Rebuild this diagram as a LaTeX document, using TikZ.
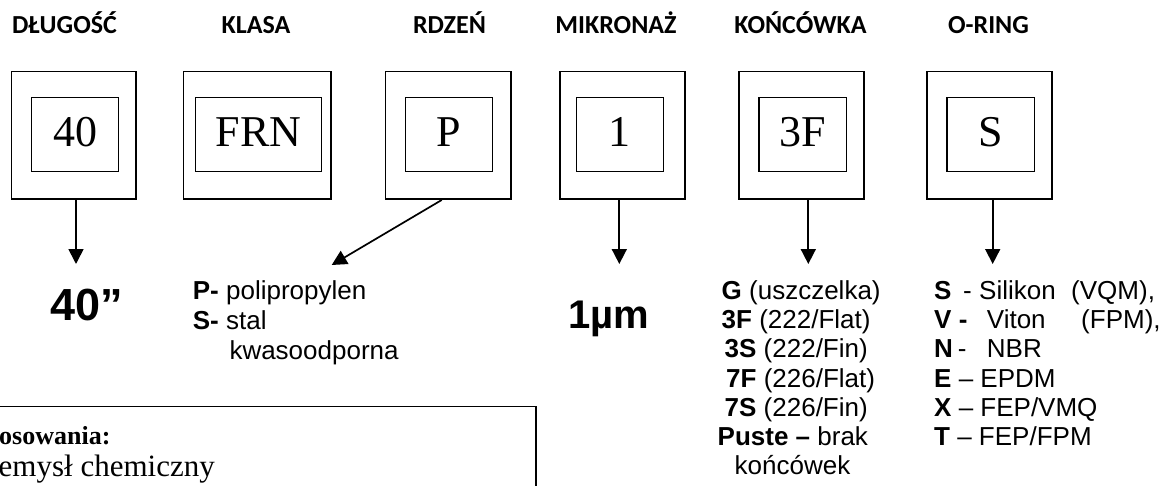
\documentclass[tikz,border=0pt]{standalone}
\usepackage{fontspec}
\setmainfont{Liberation Serif}
\newfontfamily\hdrf{Carlito}
\newfontfamily\arf{Liberation Sans}
\usetikzlibrary{arrows.meta}
\begin{document}
\begin{tikzpicture}[x=1pt,y=-1pt,
  hdr/.style={font=\hdrf\bfseries\fontsize{26}{30}\selectfont, anchor=base, inner sep=0},
  outerbox/.style={draw, line width=1.7pt, minimum height=127.6pt, inner sep=0},
  innerbox/.style={draw, line width=1.2pt, minimum height=74.4pt, inner sep=0,
     text height=25pt, text depth=0pt, font=\fontsize{44}{48}\selectfont},
  arr/.style={line width=1.7pt, -{Triangle[length=15pt,width=15pt]}},
  lst/.style={font=\arf\fontsize{26}{29}\selectfont, anchor=base west, inner sep=0},
  big/.style={font=\arf\bfseries, anchor=base west, inner sep=0},
]
\useasboundingbox (0,0) rectangle (1166,486);
\fill[white] (0,0) rectangle (1166,486);

% headers
\node[hdr] (h1) at (64.5,34) {DŁUGOŚĆ};
\node[hdr] (h2) at (256,34) {KLASA};
\node[hdr] (h3) at (449.5,34) {RDZEŃ};
\node[hdr] (h4) at (616,34) {MIKRONAŻ};
\node[hdr] (h5) at (800.5,34) {KOŃCÓWKA};
\node[hdr] (h6) at (988.5,34) {O-RING};

% outer boxes
\node[outerbox, minimum width=124.6pt] (o1) at (73.85,135.35) {};
\node[outerbox, minimum width=147.3pt] (o2) at (257.2,135.35) {};
\node[outerbox, minimum width=125.3pt] (o3) at (448.2,135.35) {};
\node[outerbox, minimum width=125pt] (o4) at (622.35,135.35) {};
\node[outerbox, minimum width=125pt] (o5) at (801.65,135.35) {};
\node[outerbox, minimum width=125pt] (o6) at (989.65,135.35) {};

% inner boxes
\node[innerbox, minimum width=87.4pt] (i1) at (75,134.5) {40\hspace{5pt}};
\node[innerbox, minimum width=125.5pt] (i2) at (258.35,134.5) {FRN\hspace{5pt}};
\node[innerbox, minimum width=87.1pt] (i3) at (449.15,134.5) {P\hspace{4pt}};
\node[innerbox, minimum width=87.1pt] (i4) at (619.85,134.5) {1\hspace{5pt}};
\node[innerbox, minimum width=87.2pt] (i5) at (802.5,134.5) {3F\hspace{4pt}};
\node[innerbox, minimum width=87.5pt] (i6) at (990.65,134.5) {S\hspace{4pt}};

% arrow tips
\coordinate (t1) at (76,264);
\coordinate (t3) at (331.7,265);
\coordinate (t4) at (619.3,264);
\coordinate (t5) at (808.3,264);
\coordinate (t6) at (992.7,264);
\draw[arr] (o1.south -| t1) -- (t1);
\draw[arr] ([xshift=-6.5pt]o3.south) -- (t3);
\draw[arr] (o4.south -| t4) -- (t4);
\draw[arr] (o5.south -| t5) -- (t5);
\draw[arr] (o6.south -| t6) -- (t6);

% values
\node[big, font=\arf\bfseries\fontsize{45}{50}\selectfont] (v1) at (50,320) {40”};
\node[big, font=\arf\bfseries\fontsize{40}{46}\selectfont] (v4) at (568,328.5) {1µm};

% RDZEN list
\node[lst] (r1) at (192.7,299.5) {\textbf{P-} polipropylen};
\node[lst] (r2) at (192.7,329.5) {\textbf{S-} stal};
\node[lst] (r3) at (229.3,359.5) {kwasoodporna};

% KONCOWKA list
\node[lst] (k1) at (721.5,299.5) {\textbf{G} (uszczelka)};
\node[lst] (k2) at (721.5,328.7) {\textbf{3F} (222/Flat)};
\node[lst] (k3) at (724.5,357.9) {\textbf{3S} (222/Fin)};
\node[lst] (k4) at (726,387.1) {\textbf{7F} (226/Flat)};
\node[lst] (k5) at (724.5,416.3) {\textbf{7S} (226/Fin)};
\node[lst] (k6) at (717.5,445.5) {\textbf{Puste –} brak};
\node[lst] (k7) at (734.5,474.7) {końcówek};

% O-RING list
\node[lst] (s1a) at (934,299.5) {\textbf{S}};
\node[lst] (s1b) at (963,299.5) {-};
\node[lst] (s1c) at (979,299.5) {Silikon};
\node[lst] (s1d) at (1071,299.5) {(VQM),};
\node[lst] (s2a) at (934,328.7) {\textbf{V -}};
\node[lst] (s2c) at (986.7,328.7) {Viton};
\node[lst] (s2d) at (1081,328.7) {(FPM),};
\node[lst] (s3a) at (934,357.9) {\textbf{N}};
\node[lst] (s3b) at (957.7,357.9) {-};
\node[lst] (s3c) at (986.7,357.9) {NBR};
\node[lst] (s4) at (934,387.1) {\textbf{E} – EPDM};
\node[lst] (s5) at (934,416.3) {\textbf{X} – FEP/VMQ};
\node[lst] (s6) at (934,445.5) {\textbf{T} – FEP/FPM};

% bottom box
\coordinate (bl) at (-5,406.7);
\coordinate (bc) at (536,406.7);
\coordinate (bb) at (536,495);
\draw[line width=1.3pt] (bl) -- (bc) -- (bb);
\node[anchor=base west, inner sep=0, font=\bfseries\fontsize{26}{30}\selectfont] (z1) at (-1,444) {osowania:};
\node[anchor=base west, inner sep=0, font=\fontsize{31}{34}\selectfont] (z2) at (-1.5,476) {emysł chemiczny};
\end{tikzpicture}
\end{document}
